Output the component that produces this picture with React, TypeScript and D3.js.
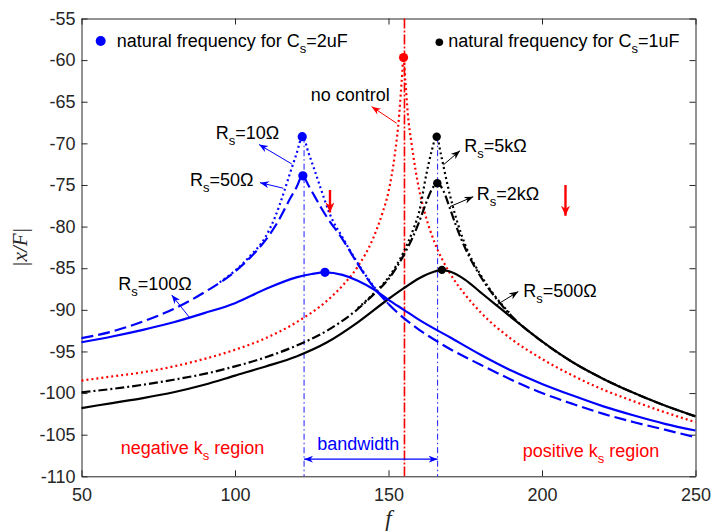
import React, { useRef, useEffect } from "react";
import * as d3 from "d3";

const W = 711, H = 532;
const margin = { top: 18.5, right: 15.5, bottom: 55.7, left: 81.5 };

const xTicks = [50, 100, 150, 200, 250];
const yTicks = [-110, -105, -100, -95, -90, -85, -80, -75, -70, -65, -60, -55];

// [f, |x/F| in dB]
const rs10: [number, number][] = [[95, -86.7], [100, -85.3], [105, -83.5], [110, -81.2], [113, -78.9], [116, -75.8], [118, -73.5], [120, -71.3], [122, -69.2], [124, -71.2], [126, -73.3], [128, -75.5], [131, -78.6], [135, -81.3], [140, -84.4], [145, -87.1], [150, -89.3]];
const rs50: [number, number][] = [[50, -93.4], [60, -92.6], [70, -91.4], [80, -89.9], [90, -87.9], [100, -85.4], [105, -83.7], [110, -81.6], [114, -79.4], [118, -76.6], [120, -75.3], [122, -73.9], [124, -75.1], [126, -76.4], [128, -77.7], [130, -78.9], [135, -81.5], [140, -84.5], [145, -87.2], [150, -89.3], [155, -91.0], [160, -92.4], [165, -93.6], [170, -94.7], [180, -96.6], [190, -98.4], [200, -100.0], [210, -101.3], [220, -102.5], [230, -103.5], [240, -104.4], [250, -105.3]];
const rs100: [number, number][] = [[50, -93.9], [60, -93.2], [70, -92.4], [80, -91.5], [90, -90.4], [100, -89.2], [110, -87.5], [120, -86.1], [125, -85.7], [129.3, -85.5], [135, -85.8], [140, -86.5], [145, -87.5], [150, -88.8], [155, -90.0], [160, -91.2], [170, -93.3], [180, -95.4], [190, -97.3], [200, -98.9], [210, -100.3], [220, -101.6], [230, -102.7], [240, -103.7], [250, -104.5]];
const noControl: [number, number][] = [[50, -98.5], [60, -98.0], [70, -97.5], [80, -96.8], [90, -95.9], [100, -94.8], [110, -93.4], [120, -91.5], [130, -88.9], [135, -87.1], [140, -84.8], [145, -81.4], [148, -78.4], [150, -75.8], [152, -71.5], [153.5, -66.5], [154.3, -62.5], [154.9, -59.7], [155.5, -62.5], [156.3, -66.5], [157.5, -70.0], [160, -75.6], [162, -78.6], [165, -81.9], [170, -85.6], [175, -88.2], [180, -90.3], [190, -93.5], [200, -95.9], [210, -97.9], [220, -99.6], [230, -101.0], [240, -102.3], [250, -103.5]];
const rs5k: [number, number][] = [[140, -89.8], [145, -88.1], [150, -86.1], [155, -83.0], [158, -80.4], [160, -78.2], [162.4, -73.6], [164, -71.0], [165.7, -69.2], [167, -71.2], [168.4, -73.6], [170, -76.2], [172.2, -79.2], [175, -82.2], [180, -85.8], [185, -88.5], [190, -90.6]];
const rs2k: [number, number][] = [[50, -99.9], [60, -99.5], [70, -99.0], [80, -98.4], [90, -97.7], [100, -96.8], [110, -95.7], [120, -94.3], [130, -92.5], [140, -89.9], [145, -88.2], [150, -86.3], [155, -83.4], [158, -81.2], [160, -79.4], [162, -77.4], [164, -75.6], [166, -74.8], [168, -75.8], [170, -77.8], [172, -79.9], [175, -82.6], [180, -86.0], [185, -88.6], [190, -90.7], [200, -93.8], [210, -96.3], [220, -98.3], [230, -100.0], [240, -101.5], [250, -102.8]];
const rs500: [number, number][] = [[50, -101.8], [60, -101.2], [70, -100.6], [80, -99.9], [90, -99.0], [100, -97.9], [110, -96.8], [120, -95.6], [130, -93.9], [140, -91.5], [150, -88.7], [155, -87.4], [160, -86.2], [165, -85.4], [167.4, -85.2], [170, -85.4], [175, -86.4], [180, -87.9], [185, -89.4], [190, -90.9], [200, -93.8], [210, -96.3], [220, -98.3], [230, -100.0], [240, -101.5], [250, -102.8]];

const blueMarks: [number, number][] = [[121.9, -69.2], [122.1, -73.9], [129.3, -85.5]];
const redMarks: [number, number][] = [[154.9, -59.7]];
const blackMarks: [number, number][] = [[165.7, -69.2], [165.9, -74.8], [167.4, -85.2]];

const fBlue1 = 122.5, fBlue2 = 166.0, fRed = 155.2;

export default function App() {
    const svgRef = useRef<SVGSVGElement>(null);

    useEffect(() => {
        const svg = d3.select(svgRef.current);
        svg.selectAll("*").remove();
        const width = W - margin.left - margin.right;
        const height = H - margin.top - margin.bottom;
        const font = "'Liberation Sans', Arial, sans-serif";

        const x = d3.scaleLinear().domain([50, 250]).range([0, width]);
        const y = d3.scaleLinear().domain([-110, -55]).range([height, 0]);

        const defs = svg.append("defs");
        function arrowHead(id, color, len, wid) {
            defs.append("marker")
                .attr("id", id)
                .attr("markerUnits", "userSpaceOnUse")
                .attr("markerWidth", len + 2).attr("markerHeight", wid + 2)
                .attr("refX", len).attr("refY", wid / 2)
                .attr("orient", "auto-start-reverse")
                .append("path")
                .attr("d", `M0,0 L${len},${wid / 2} L0,${wid} L${len * 0.3},${wid / 2} Z`)
                .attr("fill", color);
        }
        arrowHead("ab", "#0000ff", 9, 7);
        arrowHead("ak", "#000000", 9, 7);
        arrowHead("ar", "#ff0000", 9, 7);
        arrowHead("arBig", "#ff0000", 10, 9);

        const g = svg.append("g")
            .attr("transform", `translate(${margin.left},${margin.top})`);

        // axes, ticks pointing in on all four sides
        const fmt = (d) => String(d);
        const none = () => "";
        const axB = g.append("g").attr("transform", `translate(0,${height})`)
            .call(d3.axisBottom(x).tickValues(xTicks).tickSizeInner(-6).tickSizeOuter(0).tickPadding(12).tickFormat(fmt));
        const axL = g.append("g")
            .call(d3.axisLeft(y).tickValues(yTicks).tickSizeInner(-6).tickSizeOuter(0).tickPadding(6).tickFormat(fmt));
        const axT = g.append("g")
            .call(d3.axisTop(x).tickValues(xTicks).tickSizeInner(-6).tickSizeOuter(0).tickFormat(none));
        const axR = g.append("g").attr("transform", `translate(${width},0)`)
            .call(d3.axisRight(y).tickValues(yTicks).tickSizeInner(-6).tickSizeOuter(0).tickFormat(none));
        [axB, axL, axT, axR].forEach(a => {
            a.attr("font-size", 18).attr("font-family", font);
            a.selectAll(".domain").attr("stroke", "#262626");
            a.selectAll("line").attr("stroke", "#262626");
            a.selectAll("text").attr("fill", "#262626");
        });

        // axis labels
        g.append("text")
            .attr("transform", `translate(${-55},${y(-82.5)}) rotate(-90)`)
            .attr("text-anchor", "middle")
            .attr("font-family", "'Liberation Serif', 'Times New Roman', serif")
            .attr("font-style", "italic").attr("font-size", 21)
            .attr("fill", "#262626")
            .text("|x/F|");
        g.append("text")
            .attr("x", width / 2).attr("y", height + 50)
            .attr("text-anchor", "middle")
            .attr("font-family", "'Liberation Serif', 'Times New Roman', serif")
            .attr("font-style", "italic").attr("font-size", 23)
            .attr("fill", "#262626")
            .text("f");

        // vertical reference lines
        g.append("line")
            .attr("x1", x(fRed)).attr("x2", x(fRed)).attr("y1", y(-55)).attr("y2", y(-110))
            .attr("stroke", "#ff0000").attr("stroke-width", 1.6).attr("stroke-dasharray", "10,2,2,2");
        g.append("line")
            .attr("x1", x(fBlue1)).attr("x2", x(fBlue1)).attr("y1", y(-69.2)).attr("y2", y(-110))
            .attr("stroke", "#0000ff").attr("stroke-width", 0.9).attr("stroke-dasharray", "6,3,1.5,3");
        g.append("line")
            .attr("x1", x(fBlue2)).attr("x2", x(fBlue2)).attr("y1", y(-69.2)).attr("y2", y(-110))
            .attr("stroke", "#0000ff").attr("stroke-width", 0.9).attr("stroke-dasharray", "6,3,1.5,3");

        // curves
        const line = d3.line<[number, number]>()
            .x(d => x(d[0])).y(d => y(d[1]))
            .curve(d3.curveMonotoneX);
        const curves = [
            { data: noControl, color: "#ff0000", dash: "2,3" },
            { data: rs500, color: "#000000", dash: null },
            { data: rs2k, color: "#000000", dash: "9,3,2,3" },
            { data: rs5k, color: "#000000", dash: "2,3" },
            { data: rs100, color: "#0000ff", dash: null },
            { data: rs50, color: "#0000ff", dash: "12,5" },
            { data: rs10, color: "#0000ff", dash: "2,3" },
        ];
        curves.forEach(c => {
            g.append("path")
                .datum(c.data)
                .attr("fill", "none")
                .attr("stroke", c.color)
                .attr("stroke-width", 2.2)
                .attr("stroke-dasharray", c.dash)
                .attr("d", line);
        });

        // natural frequency markers
        const dots = (data, color, r) => {
            g.append("g").selectAll("circle").data(data).join("circle")
                .attr("cx", d => x(d[0])).attr("cy", d => y(d[1]))
                .attr("r", r).attr("fill", color);
        };
        dots(blueMarks, "#0000ff", 4.6);
        dots(redMarks, "#ff0000", 4.6);
        dots(blackMarks, "#000000", 4.2);

        // text with subscript s
        function label(fx, fy, parts, color) {
            const t = g.append("text")
                .attr("x", x(fx)).attr("y", y(fy))
                .attr("font-family", font).attr("font-size", 18)
                .attr("fill", color);
            parts.forEach(p => {
                if (p.sub) {
                    t.append("tspan").attr("dy", 6).attr("font-size", 13).text(p.t);
                } else {
                    t.append("tspan").attr("dy", p.after ? -6 : 0).text(p.t);
                }
            });
        }
        const rs = (rest) => [{ t: "R" }, { t: "s", sub: true }, { t: rest, after: true }];

        // legend
        g.append("circle").attr("cx", x(56.25)).attr("cy", y(-57.7)).attr("r", 5).attr("fill", "#0000ff");
        label(61.47, -58.42, [{ t: "natural frequency for C" }, { t: "s", sub: true }, { t: "=2uF", after: true }], "#000");
        g.append("circle").attr("cx", x(166.55)).attr("cy", y(-57.86)).attr("r", 3.8).attr("fill", "#000");
        label(169.48, -58.42, [{ t: "natural frequency for C" }, { t: "s", sub: true }, { t: "=1uF", after: true }], "#000");

        label(124.66, -64.91, [{ t: "no control" }], "#000");
        label(93.71, -69.47, rs("=10\u03A9"), "#000");
        label(85.34, -75.12, rs("=50\u03A9"), "#000");
        label(61.99, -87.6, rs("=100\u03A9"), "#000");
        label(174.69, -71.0, rs("=5k\u03A9"), "#000");
        label(178.73, -76.8, rs("=2k\u03A9"), "#000");
        label(193.91, -88.44, rs("=500\u03A9"), "#000");
        label(62.77, -107.3, [{ t: "negative k" }, { t: "s", sub: true }, { t: " region", after: true }], "#ff0000");
        label(193.71, -107.66, [{ t: "positive k" }, { t: "s", sub: true }, { t: " region", after: true }], "#ff0000");
        label(126.81, -106.82, [{ t: "bandwidth" }], "#0000ff");

        // annotation arrows [from, to]
        const arrows = [
            { a: [152.67, -67.59], b: [144.53, -65.59], c: "#ff0000", m: "ar", w: 1 },
            { a: [118.47, -72.47], b: [107.82, -70.14], c: "#0000ff", m: "ab", w: 1 },
            { a: [115.73, -75.39], b: [108.14, -74.72], c: "#0000ff", m: "ab", w: 1 },
            { a: [85.34, -91.0], b: [79.38, -88.21], c: "#0000ff", m: "ab", w: 1 },
            { a: [167.85, -72.59], b: [173.29, -70.88], c: "#000", m: "ak", w: 1 },
            { a: [170.03, -77.6], b: [177.62, -76.4], c: "#000", m: "ak", w: 1 },
            { a: [185.24, -89.41], b: [192.28, -87.81], c: "#000", m: "ak", w: 1 },
            { a: [130.94, -75.6], b: [130.94, -78.3], c: "#ff0000", m: "arBig", w: 2.4 },
            { a: [207.65, -75.0], b: [207.65, -78.7], c: "#ff0000", m: "arBig", w: 2.4 },
        ];
        arrows.forEach(d => {
            g.append("line")
                .attr("x1", x(d.a[0])).attr("y1", y(d.a[1]))
                .attr("x2", x(d.b[0])).attr("y2", y(d.b[1]))
                .attr("stroke", d.c).attr("stroke-width", d.w)
                .attr("marker-end", `url(#${d.m})`);
        });
        // bandwidth double arrow
        g.append("line")
            .attr("x1", x(fBlue1)).attr("x2", x(fBlue2))
            .attr("y1", y(-107.94)).attr("y2", y(-107.94))
            .attr("stroke", "#0000ff").attr("stroke-width", 1.3)
            .attr("marker-start", "url(#ab)").attr("marker-end", "url(#ab)");
    }, []);

    return (
        <div style={{ position: "fixed", left: 0, top: 0 }}>
            <svg ref={svgRef} width={W} height={H} style={{ display: "block", background: "#fff" }} />
        </div>
    );
}
